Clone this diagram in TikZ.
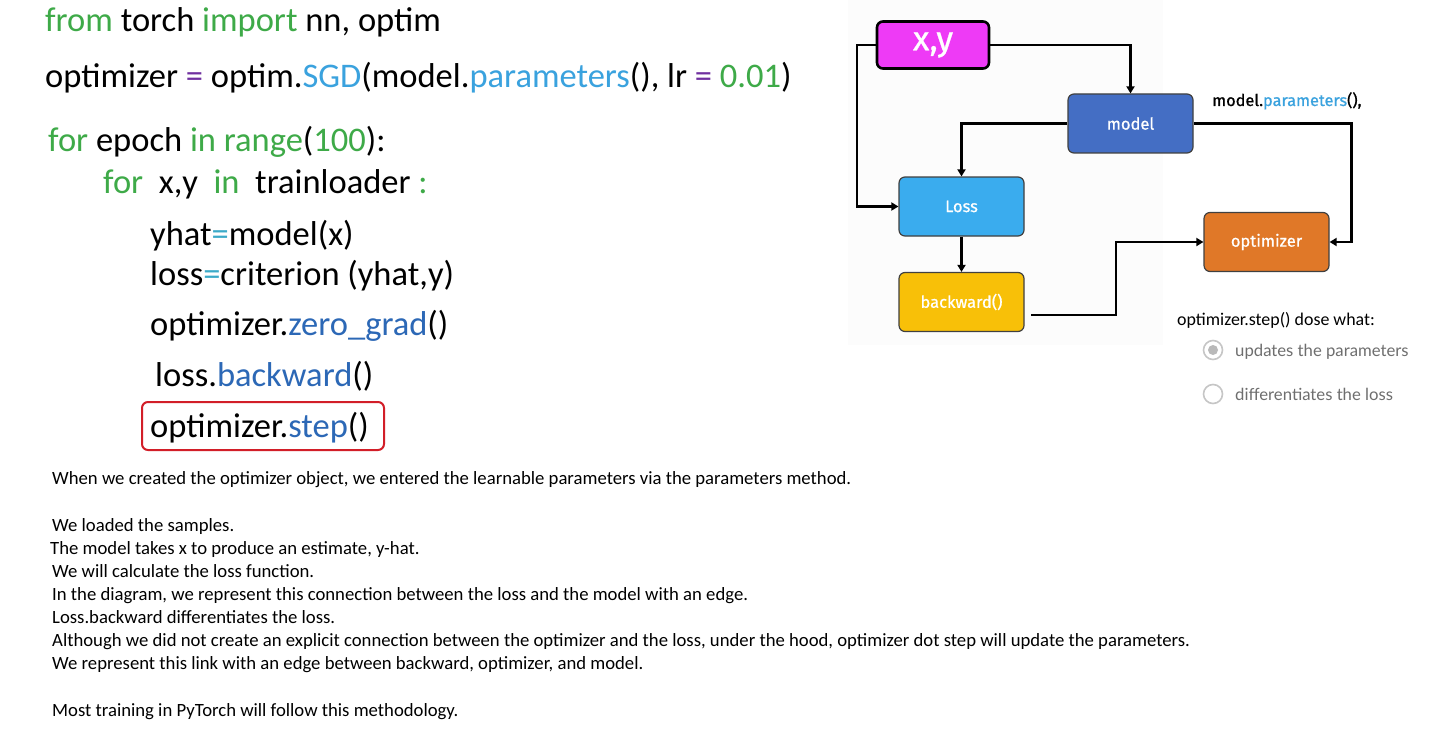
\documentclass[tikz,border=0pt]{standalone}
\usepackage{fontspec}
\setmainfont{Carlito}
\newfontfamily\diafont{Fira Sans}[FakeBold=0.8]
\newfontfamily\quizfont{Lato}
\usetikzlibrary{arrows.meta}
\usetikzlibrary{positioning}

\definecolor{kwgreen}{RGB}{62,170,72}
\definecolor{fnblue}{RGB}{58,162,222}
\definecolor{mblue}{RGB}{44,104,182}
\definecolor{oppurple}{RGB}{112,48,160}
\definecolor{opcyan}{RGB}{60,170,200}
\definecolor{xyfill}{RGB}{238,58,246}
\definecolor{modelfill}{RGB}{68,110,196}
\definecolor{lossfill}{RGB}{58,172,238}
\definecolor{bwfill}{RGB}{248,192,8}
\definecolor{optfill}{RGB}{224,120,40}
\definecolor{redbox}{RGB}{210,30,40}
\definecolor{quizgray}{RGB}{110,110,110}

\tikzset{
  block/.style={draw=black!75, line width=1.2pt, rounded corners=6pt,
    minimum width=125, minimum height=59, text=white,
    font=\diafont\fontsize{16.5}{18}\selectfont},
  link/.style={line width=2.4pt, -{Triangle[length=7pt,width=8pt]}},
  codeline/.style={anchor=base west, inner sep=0, font=\fontsize{34.5}{40}\selectfont},
  note/.style={anchor=base west, inner sep=0, font=\fontsize{18.7}{22}\selectfont},
  radio/.style={draw=gray!45, line width=1.6pt, fill=white},
}

\newcommand{\kw}[1]{\textcolor{kwgreen}{#1}}
\newcommand{\fn}[1]{\textcolor{fnblue}{#1}}
\newcommand{\mth}[1]{\textcolor{mblue}{#1}}

\begin{document}
\begin{tikzpicture}[x=1pt, y=-1pt]
  \useasboundingbox[fill=white] (0,0) rectangle (1448,749);

  % code listing
  \node[codeline] (imp) at (45,32) {\kw{from} torch \kw{import} nn, optim};
  \node[codeline] (opt) at (45,88) {optimizer \textcolor{oppurple}{=} optim.\fn{SGD}(model.\fn{parameters}(), lr \textcolor{oppurple}{=} \kw{0.01})};
  \node[codeline] (epoch) at (48,151) {\kw{for} epoch \kw{in} \kw{range}(\kw{100}):};
  \node[codeline] (batch) at (103,193) {\kw{for}\ \ x,y\ \ \kw{in}\ \ trainloader \kw{:}};
  \node[codeline] (yhat) at (150,245) {yhat\textcolor{opcyan}{=}model(x)};
  \node[codeline] (crit) at (150,285) {loss\textcolor{opcyan}{=}criterion (yhat,y)};
  \node[codeline] (zero) at (150,335) {optimizer.\mth{zero\_grad}()};
  \node[codeline] (back) at (155,386) {loss.\mth{backward}()};
  \node[codeline] (step) at (150,437) {optimizer.\mth{step}()};
  \draw[redbox, line width=2pt, rounded corners=6pt] (142,402) rectangle (384,450);

  % diagram
  \fill[black!1] (848,0) rectangle (1163,345);
  \node[block, fill=xyfill, draw=black, line width=2.6pt, minimum width=112, minimum height=47,
    font=\diafont\fontsize{34}{36}\selectfont] (xy) at (933,45) {x,y};
  \node[block, fill=modelfill] (model) at (1130.5,123.5) {model};
  \node[block, fill=lossfill] (loss) at (961.5,206.5) {Loss};
  \node[block, fill=bwfill] (bw) at (961.5,302) {backward()};
  \node[block, fill=optfill] (optim) at (1266.5,242) {optimizer};
  \coordinate (bwout) at (1031,315);

  \draw[link] (xy.east) -| (model.north);
  \draw[link] (xy.west) -- ++(-19,0) |- (loss.west);
  \draw[link] (model.west) -| (loss.north);
  \draw[link] (model.east) -- ++(158,0) |- (optim.east);
  \draw[link] (loss) -- (bw);
  \draw[link] (bwout) -- ++(85,0) |- (optim.west);

  \node[anchor=base west, inner sep=0, font=\diafont\fontsize{16.3}{18}\selectfont] (params) at (1212,106) {model.\fn{parameters}(),};

  % quiz
  \node[anchor=base west, inner sep=0, font=\fontsize{17.9}{20}\selectfont] (quiz) at (1177,325) {optimizer.step() dose what:};
  \draw[radio] (1213,350) circle (9.5);
  \fill[gray!55] (1213,350) circle (5);
  \node[anchor=base west, inner sep=0, text=quizgray, font=\quizfont\fontsize{16.7}{18}\selectfont] (ans1) at (1235,356) {updates the parameters};
  \draw[radio] (1213,394) circle (9.5);
  \node[anchor=base west, inner sep=0, text=quizgray, font=\quizfont\fontsize{16.7}{18}\selectfont] (ans2) at (1235,400) {differentiates the loss};

  % explanation
  \node[note] (n1) at (52,484) {When we created the optimizer object, we entered the learnable parameters via the parameters method.};
  \node[note] (n2) at (52,531) {We loaded the samples.};
  \node[note] (n3) at (50,554) {The model takes x to produce an estimate, y-hat.};
  \node[note] (n4) at (52,577) {We will calculate the loss function.};
  \node[note] (n5) at (52,600) {In the diagram, we represent this connection between the loss and the model with an edge.};
  \node[note] (n6) at (52,623) {Loss.backward differentiates the loss.};
  \node[note] (n7) at (52,646) {Although we did not create an explicit connection between the optimizer and the loss, under the hood, optimizer dot step will update the parameters.};
  \node[note] (n8) at (52,669) {We represent this link with an edge between backward, optimizer, and model.};
  \node[note] (n9) at (52,716) {Most training in PyTorch will follow this methodology.};
\end{tikzpicture}
\end{document}
